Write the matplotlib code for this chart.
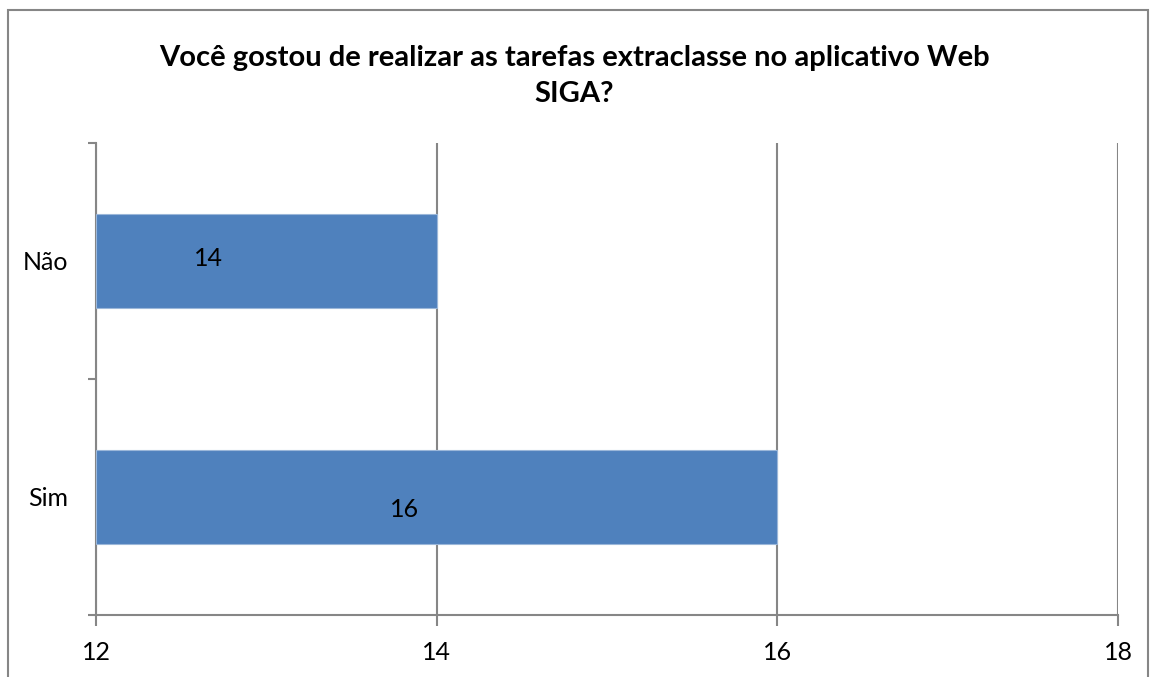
import matplotlib.pyplot as plt
from matplotlib.patches import Rectangle

# dados
categorias = ["Sim", "Não"]
valores = [16, 14]
rotulos_x = [12, 14, 16, 18]
titulo = "Você gostou de realizar as tarefas extraclasse no aplicativo Web\nSIGA?"

plt.rcParams['font.family'] = ['Lato', 'DejaVu Sans']

fig = plt.figure(figsize=(11.51, 6.77), dpi=100)
ax = fig.add_axes([96 / 1151, 1 - 615 / 677, (1118 - 96) / 1151, (615 - 143) / 677])

cinza = '#868686'
azul = '#4F81BD'

pos = list(range(len(categorias)))
ax.barh(pos, [v - 12 for v in valores], left=12, height=0.4, color=azul,
        edgecolor='#9BB7D9', linewidth=0.8, zorder=3)

# rótulos dos dados (posição estilo Excel)
pos_rotulo = [(13.81, -0.055), (12.66, 0.012)]
for p, v, (xr, dy) in zip(pos, valores, pos_rotulo):
    ax.text(xr, p + dy, str(v), ha='center', va='center', fontsize=18, zorder=4)

ax.set_xlim(12, 18)
ax.set_ylim(-0.5, 1.5)
ax.set_xticks(rotulos_x)
ax.set_xticklabels([str(r) for r in rotulos_x], fontsize=18)
ax.set_yticks(pos)
ax.set_yticklabels(categorias, fontsize=18)
ax.set_yticks([-0.5, 0.5, 1.5], minor=True)
ax.tick_params(axis='y', which='major', length=0, pad=20)
ax.tick_params(axis='y', which='minor', length=6, width=1.5, color=cinza)
ax.tick_params(axis='x', length=8, width=1.5, color=cinza, pad=11)

ax.grid(axis='x', color=cinza, linewidth=1.5, zorder=0)
for s in ['top', 'right']:
    ax.spines[s].set_visible(False)
for s in ['left', 'bottom']:
    ax.spines[s].set_color(cinza)
    ax.spines[s].set_linewidth(1.5)

fig.text(574 / 1151, 1 - 76 / 677, titulo, ha='center', va='center',
         fontsize=21, fontweight='bold', linespacing=1.45)

# moldura do gráfico
fig.patches.append(Rectangle((8 / 1151, -0.05), (1148 - 8) / 1151, 1.05 - 10 / 677,
                             transform=fig.transFigure, fill=False,
                             edgecolor=cinza, linewidth=1.5))

fig.savefig('out.png', dpi=100)
